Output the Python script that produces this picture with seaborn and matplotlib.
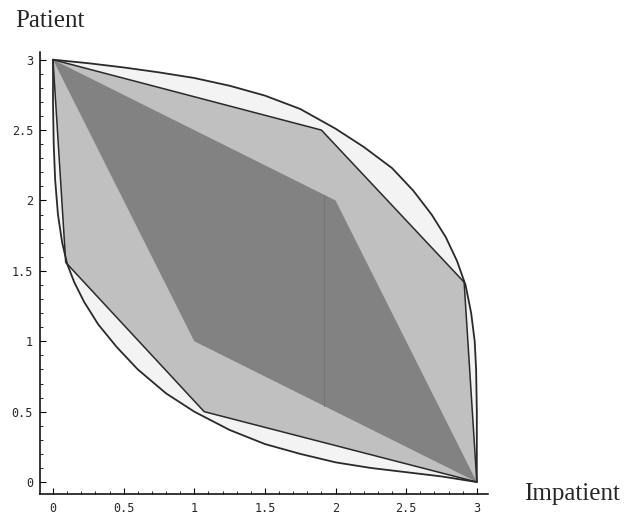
import seaborn as sns
import matplotlib.pyplot as plt
from matplotlib.ticker import MultipleLocator

# outer lens: upper and lower boundary curves
upper_x = [0, 0.25, 0.5, 0.75, 1.0, 1.25, 1.5, 1.75, 2.0, 2.2, 2.4, 2.55, 2.68,
           2.78, 2.86, 2.92, 2.96, 2.985, 2.995, 3.0, 3.0]
upper_y = [3, 2.975, 2.945, 2.91, 2.87, 2.815, 2.745, 2.65, 2.51, 2.38, 2.23, 2.07, 1.9,
           1.74, 1.57, 1.4, 1.2, 1.0, 0.8, 0.5, 0]
lower_x = [0, 0.0, 0.005, 0.015, 0.035, 0.065, 0.1, 0.15, 0.22, 0.32, 0.45, 0.6, 0.8,
           1.0, 1.25, 1.5, 1.75, 2.0, 2.25, 2.5, 2.75, 3]
lower_y = [3, 2.7, 2.4, 2.15, 1.9, 1.7, 1.55, 1.42, 1.28, 1.12, 0.96, 0.8, 0.63,
           0.5, 0.37, 0.27, 0.2, 0.14, 0.1, 0.07, 0.04, 0]

# middle polygon
poly_x = [0, 1.9, 2.91, 3, 1.07, 0.09, 0]
poly_y = [3, 2.5, 1.42, 0, 0.5, 1.56, 3]

# inner dark diamond
diamond_x = [0, 2, 3, 1, 0]
diamond_y = [3, 2, 0, 1, 3]

# faint seam inside the diamond
seam_x = [1.92, 1.92]
seam_y = [2.04, 0.54]

ticks = [0, 0.5, 1, 1.5, 2, 2.5, 3]
tick_labels = ['0', '0.5', '1', '1.5', '2', '2.5', '3']

sns.set_style('white')
fig = plt.figure(figsize=(6.25, 5.16), dpi=100)
ax = fig.add_axes([0.064, 0.0426, 0.717, 0.857])

lens_x = upper_x + lower_x[::-1]
lens_y = upper_y + lower_y[::-1]
ax.fill(lens_x, lens_y, color='#f3f3f3', lw=0, zorder=1)
ax.fill(poly_x, poly_y, color='#c0c0c0', lw=0, zorder=2)
ax.fill(diamond_x, diamond_y, color='#828282', lw=0, zorder=3)

edge = '#2a2a2a'
sns.lineplot(x=upper_x, y=upper_y, sort=False, estimator=None, color=edge, lw=1.3, ax=ax, zorder=5)
sns.lineplot(x=lower_x, y=lower_y, sort=False, estimator=None, color=edge, lw=1.3, ax=ax, zorder=5)
sns.lineplot(x=poly_x, y=poly_y, sort=False, estimator=None, color=edge, lw=1.1, ax=ax, zorder=4)
sns.lineplot(x=seam_x, y=seam_y, sort=False, estimator=None, color='#767676', lw=0.8, ax=ax, zorder=4)

ax.set_xlim(-0.092, 3.08)
ax.set_ylim(-0.085, 3.056)
ax.set_xticks(ticks)
ax.set_xticklabels(tick_labels)
ax.set_yticks(ticks)
ax.set_yticklabels(tick_labels)
ax.xaxis.set_minor_locator(MultipleLocator(0.1))
ax.yaxis.set_minor_locator(MultipleLocator(0.1))
ax.tick_params(which='major', direction='in', length=4, width=0.8, color='black',
               labelsize=8.5, bottom=True, left=True)
ax.tick_params(which='minor', direction='in', length=2, width=0.6, color='black',
               bottom=True, left=True)
ax.tick_params(axis='x', pad=6)
ax.tick_params(axis='y', pad=5)
for lab in ax.get_xticklabels() + ax.get_yticklabels():
    lab.set_family('DejaVu Sans Mono')

for side in ['top', 'right']:
    ax.spines[side].set_visible(False)
for side in ['left', 'bottom']:
    ax.spines[side].set_color('black')
    ax.spines[side].set_linewidth(1.1)

fig.text(0.024, 0.948, 'Patient', family='Liberation Serif', fontsize=18, va='baseline', ha='left')
fig.text(0.992, 0.031, 'Impatient', family='Liberation Serif', fontsize=18, va='baseline', ha='right')

fig.savefig('out.png', dpi=100)
